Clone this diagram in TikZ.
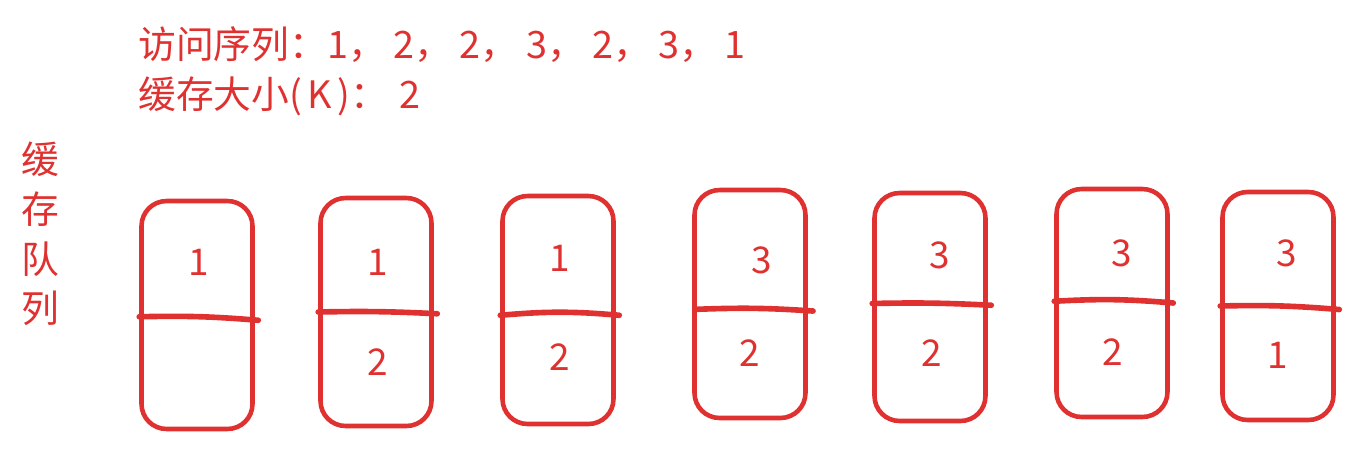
\documentclass[tikz,border=0pt]{standalone}
\usepackage{fontspec}
\newfontfamily\cjk{Noto Sans CJK SC}
\usetikzlibrary{positioning}
\definecolor{sketchRed}{RGB}{224,49,49}

\begin{document}
\begin{tikzpicture}[
    x=0.02cm, y=-0.02cm,
    slot/.style={rectangle, draw=sketchRed, line width=2.6pt, rounded corners=0.5cm, minimum width=2.22cm, minimum height=4.56cm},
    divider/.style={draw=sketchRed, line width=3.2pt, line cap=round},
    num/.style={text=sketchRed, font=\cjk\fontsize{21}{24}\selectfont},
    info/.style={text=sketchRed, font=\cjk\fontsize{21.5}{26}\selectfont, anchor=west, inner sep=0pt}
]
\useasboundingbox (0,0) rectangle (1357,451);

% Header
\node[info] (seq) at (138,45) {访问序列：1，\hspace{0.2em}2，\hspace{0.2em}2，\hspace{0.2em}3，\hspace{0.2em}2，\hspace{0.2em}3，\hspace{0.2em}1};
\node[info] (size) at (138,96) {缓存大小(\hspace{0.15em}K\hspace{0.15em})：\hspace{0.3em}2};
\node[text=sketchRed, font=\cjk\fontsize{21.5}{28.3}\selectfont, align=center] (queue) at (40,234) {缓\\存\\队\\列};

% Cache slots
\node[slot] (b1) at (197,315) {};
\node[slot] (b2) at (376,312) {};
\node[slot] (b3) at (558,310) {};
\node[slot] (b4) at (750,304) {};
\node[slot] (b5) at (930,307) {};
\node[slot] (b6) at (1112,303) {};
\node[slot] (b7) at (1278,306) {};

\draw[divider] ([yshift=-1pt]b1.west) to[bend left=3] ([xshift=2pt,yshift=-3pt]b1.east);
\draw[divider] (b2.west) to[bend left=2] ([xshift=2pt,yshift=-1pt]b2.east);
\draw[divider] ([yshift=-3pt]b3.west) to[bend left=5] ([xshift=2pt,yshift=-3pt]b3.east);
\draw[divider] ([xshift=3pt,yshift=-3pt]b4.west) to[bend left=3] ([xshift=3pt,yshift=-4pt]b4.east);
\draw[divider] ([yshift=2pt]b5.west) to[bend left=2] ([xshift=2pt,yshift=1pt]b5.east);
\draw[divider] ([yshift=1pt]b6.west) to[bend left=4] ([xshift=2pt]b6.east);
\draw[divider] (b7.west) to[bend left=3] ([xshift=2pt,yshift=-2pt]b7.east);

% Contents
\node[num] (t1) at (199,262) {1};
\node[num] (t2) at (378,262) {1};
\node[num] (u2) at (378,362) {2};
\node[num] (t3) at (560,258) {1};
\node[num] (u3) at (560,357) {2};
\node[num] (t4) at (762,260) {3};
\node[num] (u4) at (750,353) {2};
\node[num] (t5) at (940,255) {3};
\node[num] (u5) at (932,353) {2};
\node[num] (t6) at (1122,253) {3};
\node[num] (u6) at (1113,352) {2};
\node[num] (t7) at (1287,253) {3};
\node[num] (u7) at (1278,355) {1};

\end{tikzpicture}
\end{document}
